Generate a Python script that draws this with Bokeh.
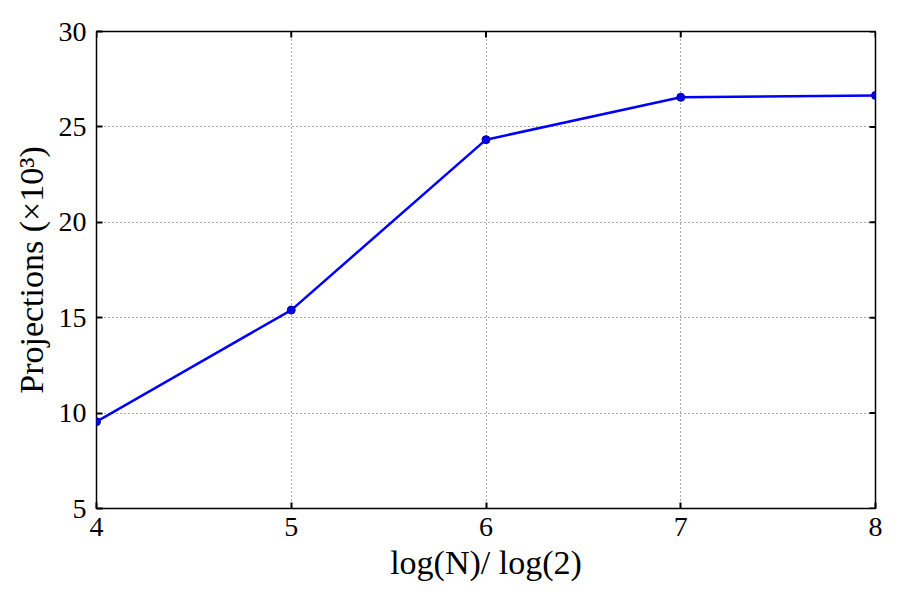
from bokeh.plotting import figure
from bokeh.models import FixedTicker, Range1d
from bokeh.embed import file_html
from bokeh.resources import INLINE

x_vals = [4, 5, 6, 7, 8]
projections = [9.55, 15.4, 24.33, 26.55, 26.65]
x_ticks = [4, 5, 6, 7, 8]
y_ticks = [5, 10, 15, 20, 25, 30]

FONT = "Liberation Serif"

p = figure(width=884, height=584, output_backend="svg", toolbar_location=None,
           x_range=Range1d(4, 8), y_range=Range1d(5, 30),
           min_border_left=96, min_border_right=9, min_border_top=31, min_border_bottom=76)

p.line(x_vals, projections, line_color="#0000ff", line_width=2.5)
p.scatter(x_vals, projections, size=8, fill_color="#0000ff", line_color="#00008b")

# inward tick marks on the top and right frame edges
p.scatter(x=[8] * len(y_ticks), y=y_ticks, marker="dash", size=12,
          line_color="black", line_width=2)
p.scatter(x=x_ticks, y=[30] * len(x_ticks), marker="dash", angle=1.5708, size=12,
          line_color="black", line_width=2)

p.outline_line_color = "black"
p.outline_line_width = 1.5
p.outline_line_alpha = 1

for ax in (p.xaxis[0], p.yaxis[0]):
    ax.major_tick_in = 6
    ax.major_tick_out = 0
    ax.minor_tick_in = 0
    ax.minor_tick_out = 0
    ax.major_tick_line_width = 2
    ax.axis_line_color = None
    ax.major_label_text_font = FONT
    ax.major_label_text_font_size = "28px"
    ax.major_label_text_color = "black"
    ax.axis_label_text_font = FONT
    ax.axis_label_text_font_size = "34px"
    ax.axis_label_text_font_style = "normal"
    ax.axis_label_text_color = "black"

p.xaxis[0].ticker = FixedTicker(ticks=x_ticks)
p.yaxis[0].ticker = FixedTicker(ticks=y_ticks)
p.xaxis[0].axis_label = "log(N)/ log(2)"
p.yaxis[0].axis_label = "Projections (×10³)"
p.xaxis[0].major_label_standoff = 9
p.yaxis[0].major_label_standoff = 10
p.xaxis[0].axis_label_standoff = 5
p.yaxis[0].axis_label_standoff = 6

for g in (p.xgrid[0], p.ygrid[0]):
    g.grid_line_color = "#555555"
    g.grid_line_dash = "1 3"
    g.grid_line_width = 1
p.xgrid[0].ticker = FixedTicker(ticks=x_ticks)
p.ygrid[0].ticker = FixedTicker(ticks=y_ticks)

p.background_fill_color = "white"
p.border_fill_color = "white"

open("out.html", "w").write(file_html(p, INLINE))
